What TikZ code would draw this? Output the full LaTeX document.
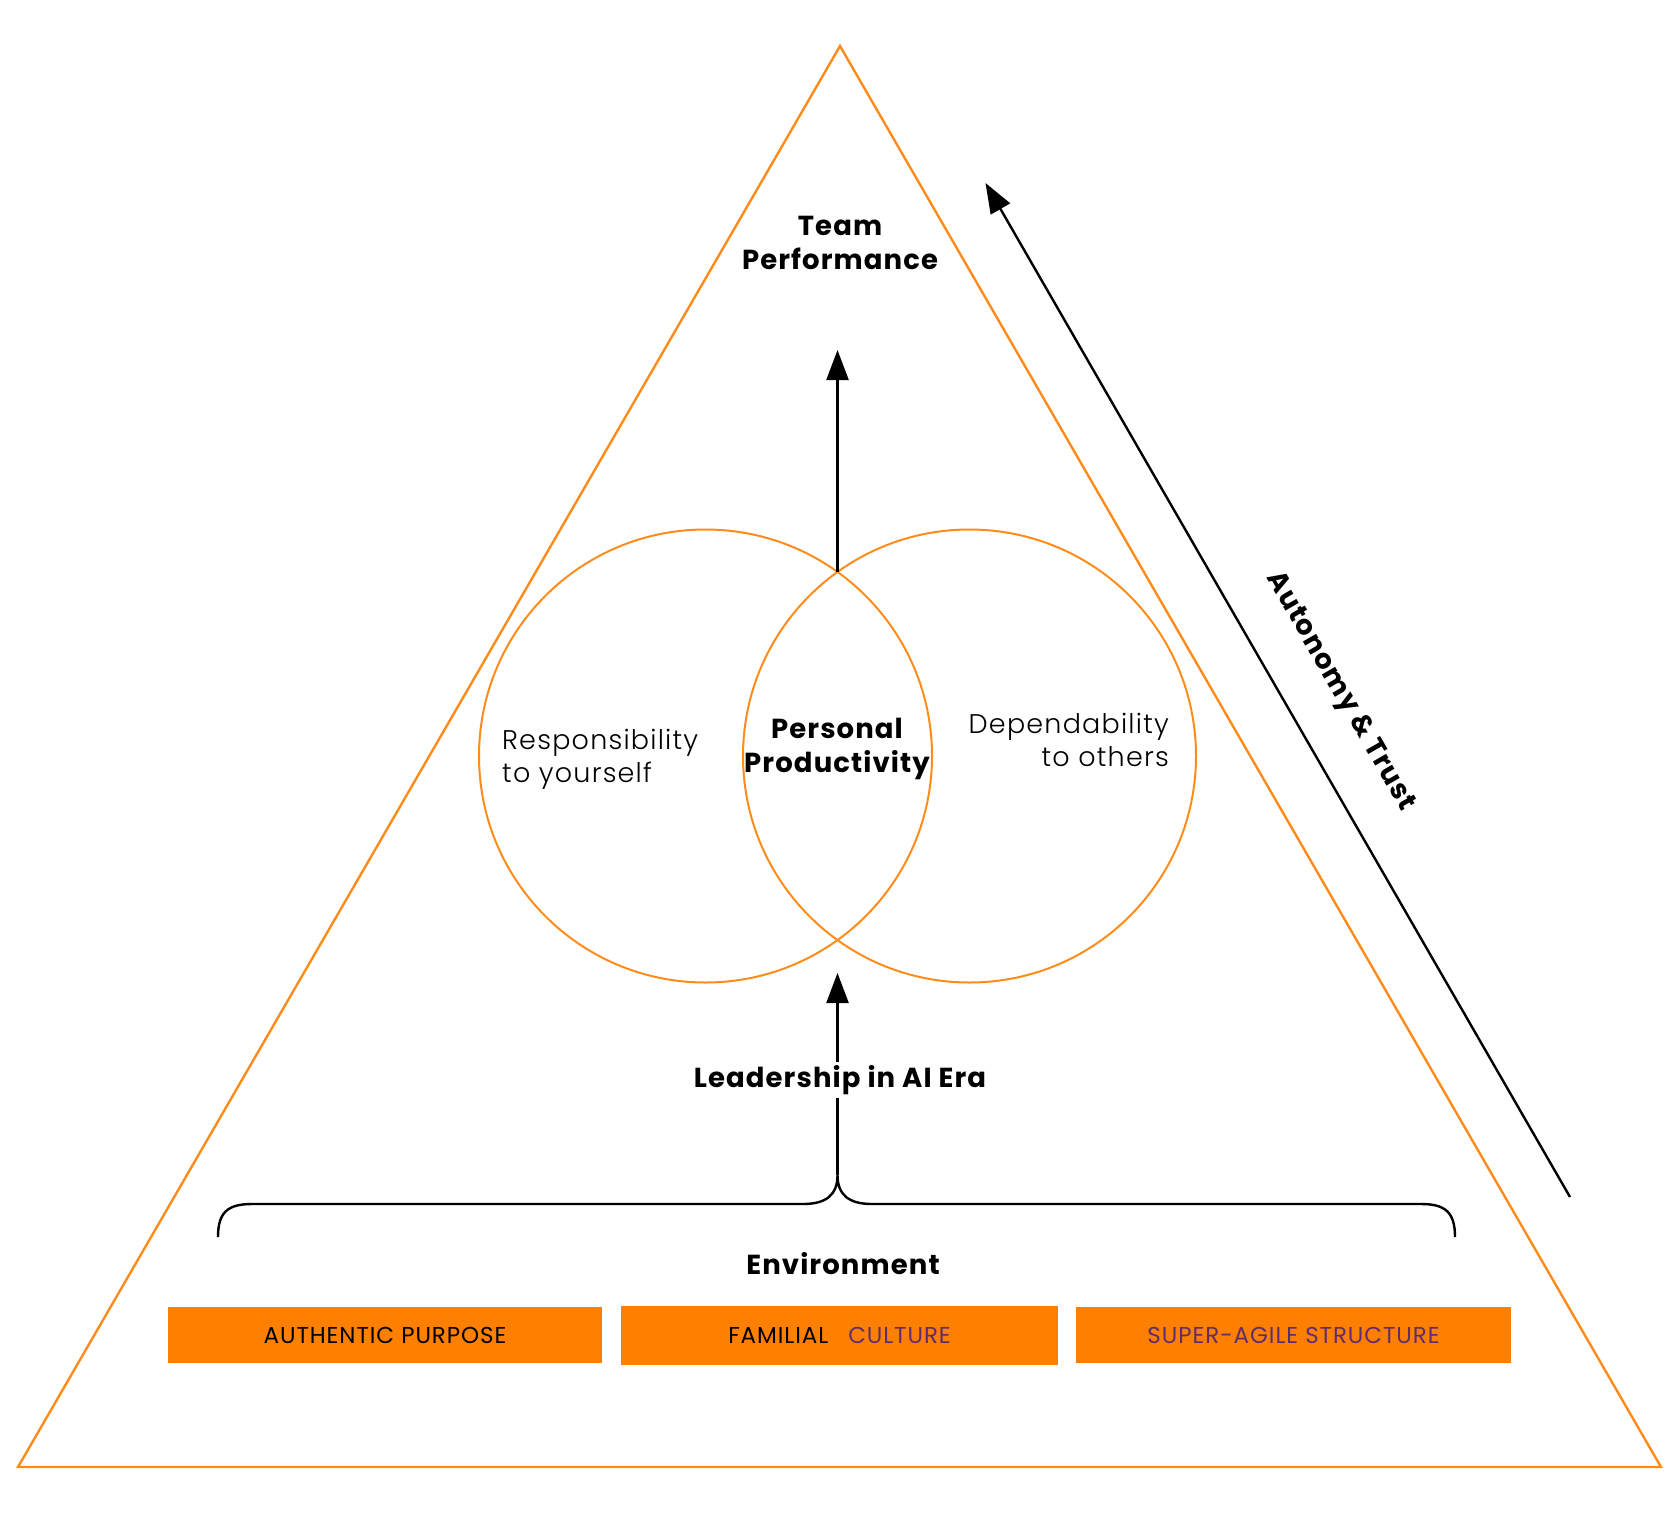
\documentclass[tikz,border=0pt]{standalone}
\usepackage{fontspec}
\setmainfont{Poppins}
\newfontfamily\lightfont{Poppins Light}[LetterSpace=4.5]
\newfontfamily\widefont{Poppins}[LetterSpace=4]
\newfontfamily\boxfont{Poppins}[LetterSpace=4]
\usetikzlibrary{arrows.meta}
\definecolor{tri}{RGB}{255,140,26}
\definecolor{boxorange}{RGB}{255,128,0}
\definecolor{purp}{RGB}{95,45,110}
\tikzset{
  orangeline/.style={draw=tri, line width=2.4pt},
  blackarrow/.style={draw=black, line width=2.4pt, -{Triangle[length=30pt,width=22pt]}},
  boldlabel/.style={font=\widefont\bfseries\fontsize{27.5}{34}\selectfont, align=center, inner sep=2pt},
  lightlabel/.style={font=\lightfont\fontsize{27}{33}\selectfont, inner sep=0pt},
  envbox/.style={fill=boxorange, draw=none, minimum height=56pt, inner sep=0pt,
     font=\boxfont\fontsize{23}{26}\selectfont},
  venn/.style={circle, draw=tri, line width=2pt, minimum size=453pt, inner sep=0pt}
}
\begin{document}
\begin{tikzpicture}[x=1pt,y=-1pt]
\useasboundingbox (0,0) rectangle (1676,1532);
% triangle
\coordinate (apex) at (840,46);
\coordinate (bl) at (18,1467);
\coordinate (br) at (1661,1467);
\draw[orangeline, line join=miter] (apex) -- (bl) -- (br) -- cycle;
% venn circles
\node[venn] (lc) at (705.5,756) {};
\node[venn] (rc) at (969.5,756) {};
% labels
\node[boldlabel] (team) at (840,243) {Team\\Performance};
\node[boldlabel] (pers) at (837,749) {Personal\\Productivity};
\node[lightlabel, anchor=west, align=left] (resp) at (502,759) {Responsibility\\to yourself};
\node[lightlabel, anchor=east, align=right] (dep) at (1169,740) {Dependability\\to others};
% upper arrow
\coordinate (vtop) at (837.5,572);
\coordinate (uptip) at (837.5,350);
\draw[blackarrow] (vtop) -- (uptip);
% brace
\coordinate (bleft) at (218,1237);
\coordinate (bright) at (1455,1237);
\coordinate (cusp) at (837.5,1175);
\draw[black, line width=2.4pt] (bleft) .. controls (218,1212) and (228,1204) .. (252,1204)
  -- (803,1204) .. controls (826,1204) and (837.5,1195) .. (cusp)
  .. controls (837.5,1195) and (849,1204) .. (872,1204)
  -- (1421,1204) .. controls (1445,1204) and (1455,1212) .. (bright);
% lower arrow
\coordinate (lowtip) at (837.5,973);
\draw[blackarrow] (cusp) -- (lowtip);
\node[boldlabel, fill=white, inner sep=3pt] (lead) at (840,1080) {Leadership in AI Era};
\node[boldlabel] (env) at (843,1264) {Environment};
% boxes
\node[envbox, minimum width=434pt] (b1) at (385,1335) {AUTHENTIC PURPOSE};
\node[envbox, minimum width=437pt, minimum height=59pt] (b2) at (839.5,1335) {FAMILIAL\hspace{20pt}\textcolor{purp}{CULTURE}};
\node[envbox, minimum width=435pt, text=purp] (b3) at (1293.5,1335) {SUPER-AGILE STRUCTURE};
% autonomy arrow
\coordinate (atail) at (1570,1197);
\coordinate (ahead) at (985.5,183);
\draw[blackarrow] (atail) -- (ahead);
\node[boldlabel, rotate=-60] (auto) at (1340,692) {Autonomy \& Trust};
\end{tikzpicture}
\end{document}
